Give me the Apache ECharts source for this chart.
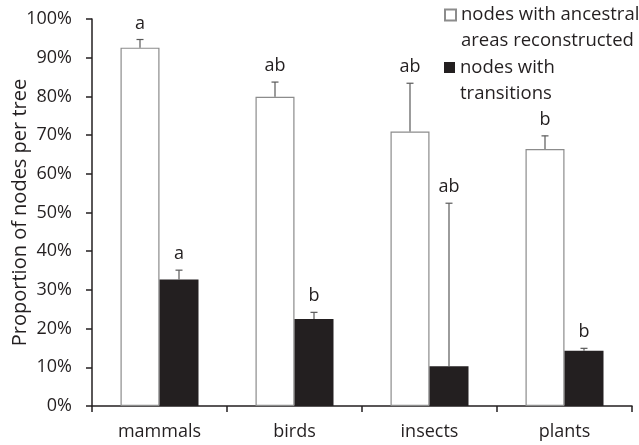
<!DOCTYPE html>
<html><head><meta charset="utf-8">
<script src="https://cdn.jsdelivr.net/npm/echarts@6/dist/echarts.min.js"></script>
<style>html,body{margin:0;padding:0;background:#fff}#c{width:639px;height:445px}</style>
</head><body><div id="c"></div>
<script>
const categories = ['mammals', 'birds', 'insects', 'plants'];
const reconstructed = [92.6, 79.9, 70.9, 66.4];
const reconstructedErr = [2.1, 3.8, 12.5, 3.4];
const reconstructedLetters = ['a', 'ab', 'ab', 'b'];
const transitions = [32.7, 22.5, 10.3, 14.3];
const transitionsErr = [2.4, 1.7, 42.1, 0.6];
const transitionsLetters = ['a', 'b', 'ab', 'b'];
const yTicks = [0, 10, 20, 30, 40, 50, 60, 70, 80, 90, 100];

const nameA = 'nodes with ancestral\nareas reconstructed';
const nameB = 'nodes with\ntransitions';
const FONT = 'Open Sans';
const TXT = '#231f20';
const BW = 39;

function errSeries(vals, errs, letters, offset) {
  return {
    type: 'custom', z: 5, silent: true,
    data: vals.map((v, i) => [i, v, v + errs[i]]),
    renderItem: function (params, api) {
      const i = api.value(0), v = api.value(1), t = api.value(2);
      const b = api.coord([i, v]), p = api.coord([i, t]);
      const x = b[0] + offset;
      return {
        type: 'group', children: [
          { type: 'line', shape: { x1: x, y1: b[1], x2: x, y2: p[1] }, style: { stroke: '#595959', lineWidth: 1.2 } },
          { type: 'line', shape: { x1: x - 3.5, y1: p[1], x2: x + 3.5, y2: p[1] }, style: { stroke: '#595959', lineWidth: 1.2 } },
          { type: 'text', x: x, y: p[1] - 16, style: { text: letters[params.dataIndex], fontFamily: FONT, fontSize: 18, fill: TXT, align: 'center', verticalAlign: 'middle' } }
        ]
      };
    }
  };
}

const legendText = { fontFamily: FONT, fontSize: 18.5, color: TXT, lineHeight: 26 };
const chart = echarts.init(document.getElementById('c'));
chart.setOption({
  animation: false,
  backgroundColor: '#fff',
  textStyle: { fontFamily: FONT },
  grid: { left: 92, right: 7, top: 19, bottom: 39, outerBoundsMode: 'none', containLabel: false },
  legend: [
    { data: [nameA], left: 444, top: -24, padding: 0, orient: 'vertical', itemWidth: 11, itemHeight: 11, icon: 'rect',
      formatter: n => ' \n' + n, textStyle: legendText },
    { data: [nameB], left: 444, top: 28.5, padding: 0, orient: 'vertical', itemWidth: 11, itemHeight: 11, icon: 'rect',
      formatter: n => ' \n' + n, textStyle: legendText }
  ],
  xAxis: {
    type: 'category', data: categories,
    axisLine: { lineStyle: { color: TXT, width: 1.5 } },
    axisTick: { show: true, length: 6, lineStyle: { color: TXT, width: 1.5 } },
    axisLabel: { fontFamily: FONT, fontSize: 18, color: TXT, margin: 17 }
  },
  yAxis: {
    type: 'value', min: 0, max: 100, interval: 10,
    name: 'Proportion of nodes per tree', nameLocation: 'middle', nameGap: 62, nameRotate: 90,
    nameMoveOverlap: false,
    nameTextStyle: { fontFamily: FONT, fontSize: 20, color: TXT },
    axisLine: { show: true, lineStyle: { color: TXT, width: 1.5 } },
    axisTick: { show: true, length: 6, lineStyle: { color: TXT, width: 1.5 } },
    axisLabel: { fontFamily: FONT, fontSize: 18, color: TXT, margin: 20, formatter: v => yTicks.includes(v) ? v + '%' : '' },
    splitLine: { show: false }
  },
  series: [
    { name: nameA, type: 'bar', data: reconstructed, barWidth: BW, barGap: '0%',
      itemStyle: { color: '#ffffff', borderColor: '#8c8c8c', borderWidth: 1.2 } },
    { name: nameB, type: 'bar', data: transitions, barWidth: BW, barGap: '0%',
      itemStyle: { color: '#231f20', borderColor: '#231f20', borderWidth: 0 } },
    errSeries(reconstructed, reconstructedErr, reconstructedLetters, -BW / 2),
    errSeries(transitions, transitionsErr, transitionsLetters, BW / 2)
  ]
});
</script>
</body></html>
